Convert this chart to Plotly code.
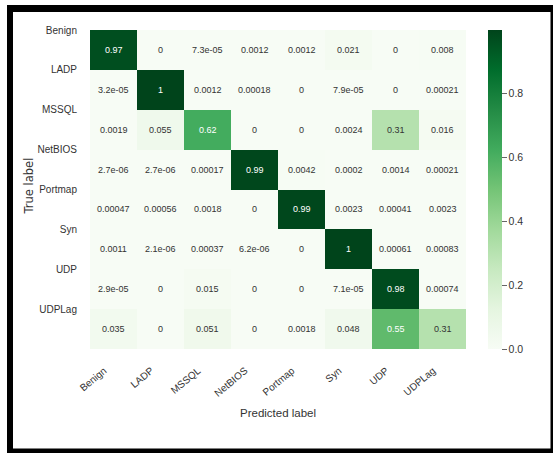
import plotly.graph_objects as go

labels = ["Benign", "LADP", "MSSQL", "NetBIOS", "Portmap", "Syn", "UDP", "UDPLag"]
values = [
    [0.97, 0, 7.3e-05, 0.0012, 0.0012, 0.021, 0, 0.008],
    [3.2e-05, 1, 0.0012, 0.00018, 0, 7.9e-05, 0, 0.00021],
    [0.0019, 0.055, 0.62, 0, 0, 0.0024, 0.31, 0.016],
    [2.7e-06, 2.7e-06, 0.00017, 0.99, 0.0042, 0.0002, 0.0014, 0.00021],
    [0.00047, 0.00056, 0.0018, 0, 0.99, 0.0023, 0.00041, 0.0023],
    [0.0011, 2.1e-06, 0.00037, 6.2e-06, 0, 1, 0.00061, 0.00083],
    [2.9e-05, 0, 0.015, 0, 0, 7.1e-05, 0.98, 0.00074],
    [0.035, 0, 0.051, 0, 0.0018, 0.048, 0.55, 0.31],
]
cbar_ticks = [0.0, 0.2, 0.4, 0.6, 0.8]

greens = ['#f7fcf5', '#e5f5e0', '#c7e9c0', '#a1d99b', '#74c476',
          '#41ab5d', '#238b45', '#006d2c', '#00441b']
colorscale = [[i / (len(greens) - 1), c] for i, c in enumerate(greens)]

W, H = 555, 454
PL, PR, PT, PB = 90, 466, 30, 349  # plot area in pixels


def px(x):
    return (x - PL) / (PR - PL)


def py(y):
    return (PB - y) / (PB - PT)


n = len(labels)
centers = [i + 0.5 for i in range(n)]
NARROW = "Liberation Sans, Arial, sans-serif"
TXT = "#333333"

fig = go.Figure()
fig.add_trace(go.Heatmap(
    z=values, x=centers, y=centers,
    colorscale=colorscale, zmin=0, zmax=max(max(r) for r in values),
    showscale=True,
    colorbar=dict(
        thickness=14, len=1, lenmode="fraction", y=0.5, yanchor="middle",
        x=px(488), xanchor="left", xpad=0, ypad=0, outlinewidth=0,
        tickvals=cbar_ticks, ticktext=[f"{t:.1f}" for t in cbar_ticks],
        ticks="outside", ticklen=5, tickcolor="#666666",
        tickfont=dict(family=NARROW, size=10.5, color=TXT),
    ),
    hoverinfo="skip",
))

annotations = []
for i, row in enumerate(values):
    for j, v in enumerate(row):
        annotations.append(dict(
            x=centers[j], y=centers[i], xref="x", yref="y",
            text=format(v, ".2g"), showarrow=False,
            font=dict(family=NARROW, size=9, color="white" if v > 0.5 else TXT),
        ))

annotations.append(dict(
    x=px(277.5), y=py(413), xref="paper", yref="paper",
    xanchor="center", yanchor="middle",
    text="Predicted label", showarrow=False,
    font=dict(family=NARROW, size=11.5, color=TXT),
))
annotations.append(dict(
    x=px(28.5), y=py(186), xref="paper", yref="paper",
    xanchor="center", yanchor="middle",
    text="True label", showarrow=False, textangle=-90,
    font=dict(family="DejaVu Sans", size=11.5, color=TXT),
))

shapes = []
for x0, x1, y0, y1 in [(7, 13, 5, 453), (7, 553, 5, 12),
                       (550.5, 553, 5, 453), (7, 553, 448.5, 453)]:
    shapes.append(dict(type="rect", xref="paper", yref="paper",
                       x0=px(x0), x1=px(x1), y0=py(y1), y1=py(y0),
                       fillcolor="black", line=dict(width=0)))

fig.update_layout(
    width=W, height=H,
    margin=dict(l=PL, r=W - PR, t=PT, b=H - PB),
    paper_bgcolor="white", plot_bgcolor="white",
    annotations=annotations, shapes=shapes,
    xaxis=dict(range=[0, n], tickvals=[c - 0.2 for c in centers],
               ticktext=labels, tickangle=-40, showgrid=False, zeroline=False,
               ticks="outside", ticklen=11, tickcolor="rgba(0,0,0,0)",
               tickfont=dict(family=NARROW, size=10, color=TXT), showline=False),
    yaxis=dict(range=[n, 0], tickvals=list(range(n)), ticktext=labels,
               showgrid=False, zeroline=False,
               ticks="outside", ticklen=10, tickcolor="rgba(0,0,0,0)",
               tickfont=dict(family=NARROW, size=10, color=TXT), showline=False),
)

fig.write_html("out.html")
